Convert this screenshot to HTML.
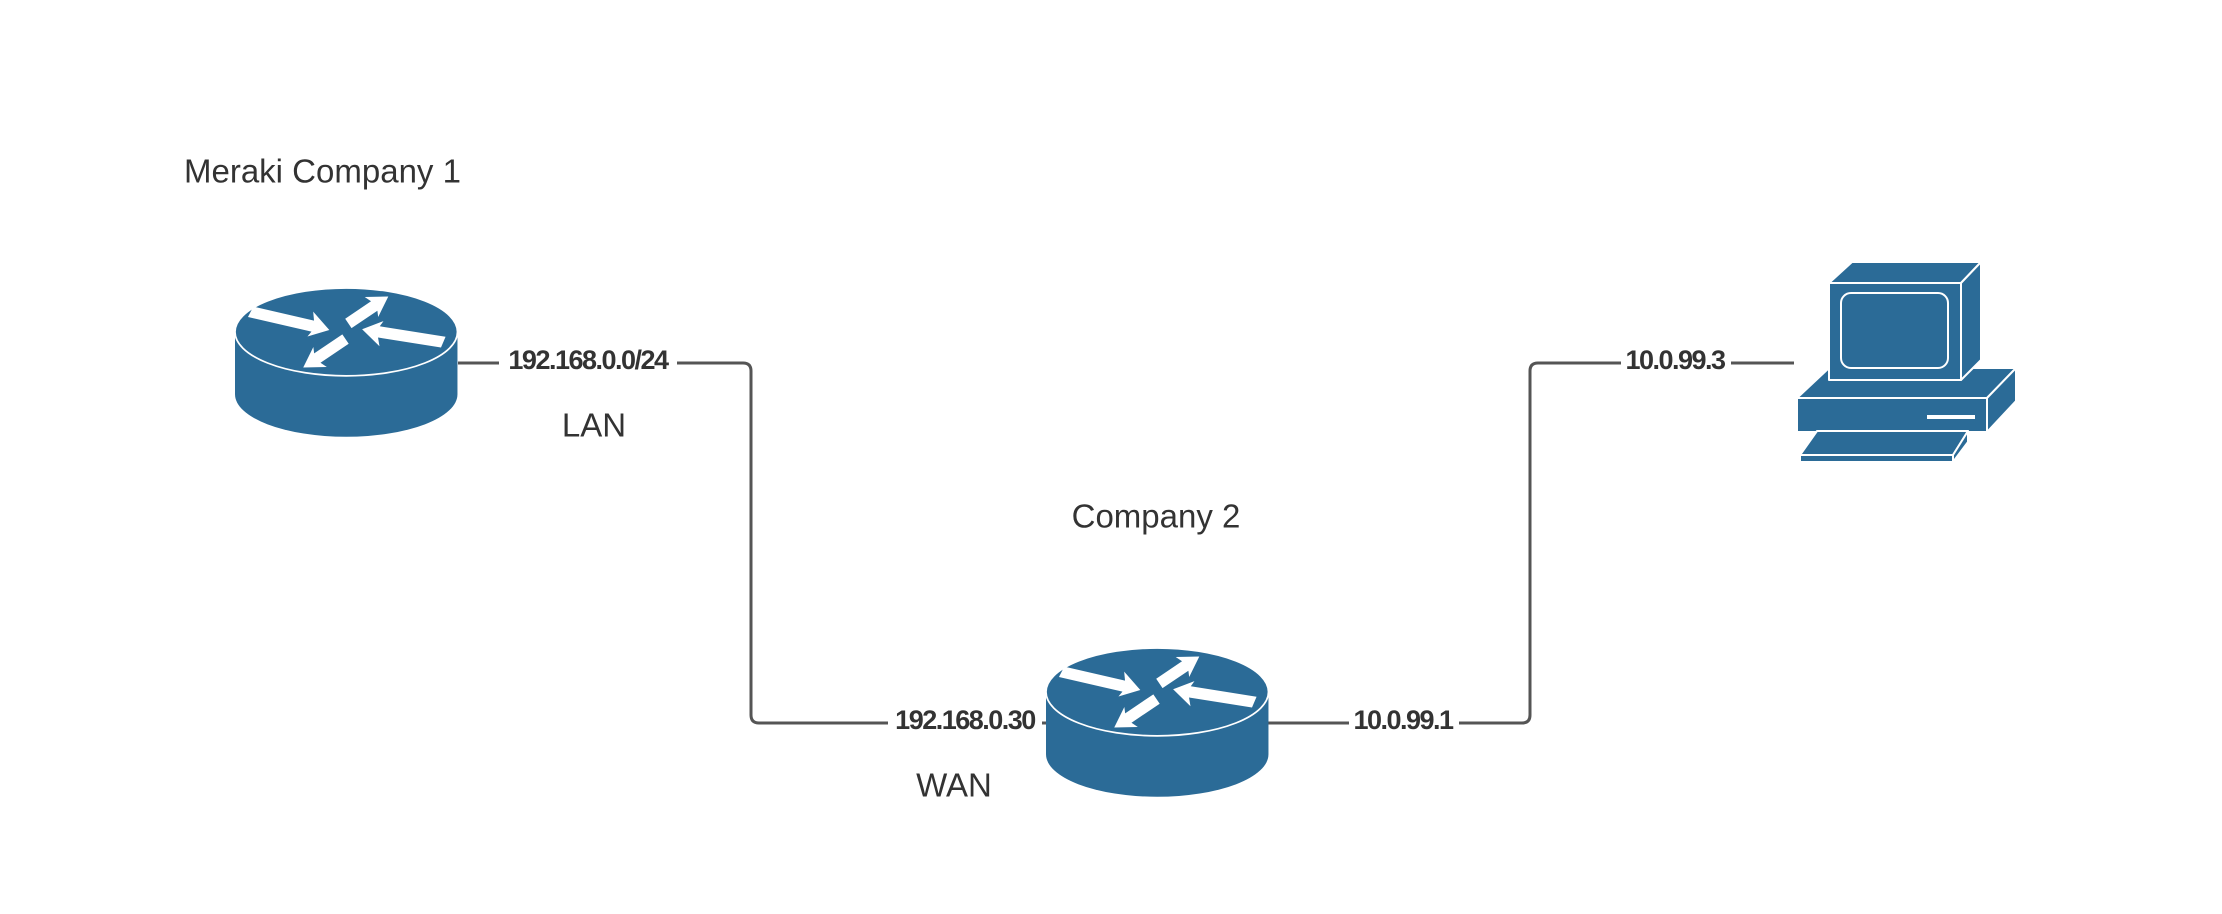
<!DOCTYPE html>
<html><head><meta charset="utf-8"><style>
html,body{margin:0;padding:0;background:#fff;}
svg{display:block;}
text{font-family:"Liberation Sans",sans-serif;fill:#333;}
.b{font-weight:bold;font-size:27px;letter-spacing:-1.5px;}
.n{font-size:33px;}
</style></head><body>
<svg width="2222" height="914" viewBox="0 0 2222 914" xmlns="http://www.w3.org/2000/svg">
<defs>
<g id="router">
  <path d="M0,31 L0,75 A78.5,30 0 0 0 157,75 L157,31 Z" fill="#2b6b97"/>
  <ellipse cx="78.5" cy="31" rx="78.5" ry="31" fill="#2b6b97" stroke="#fff" stroke-width="1.2"/>
  <g fill="#fff">
    <polygon points="0,-4 44,-4 42,-10 56,0 42,8 44,4 -2,4" transform="translate(12,17) rotate(13)"/>
    <polygon points="0,-4 22,-4 20,-9 34,0 20,8 22,4 0,4" transform="translate(80,25) rotate(-34)"/>
    <polygon points="0,-4 45,-4 43,-10 57,0 43,8 45,4 -2,4" transform="translate(146,38) rotate(189)"/>
    <polygon points="0,-4 24,-4 22,-9 36,0 22,8 24,4 0,4" transform="translate(78,36) rotate(146)"/>
  </g>
</g>
</defs>
<g fill="none" stroke="#555" stroke-width="3">
  <path d="M458,363 H743 Q751,363 751,371 V715 Q751,723 759,723 H1046"/>
  <path d="M1268,723 H1522 Q1530,723 1530,715 V371 Q1530,363 1538,363 H1794"/>
</g>
<use href="#router" transform="translate(235,288) scale(1.417)"/>
<use href="#router" transform="translate(1046,648) scale(1.417)"/>
<g fill="#2b6b97" stroke="#fff" stroke-width="2" stroke-linejoin="round">
  <polygon points="1797,398 1829,368 2016,368 1987,398"/>
  <polygon points="1987,398 2016,368 2016,401 1987,432"/>
  <rect x="1797" y="398" width="190" height="34"/>
  <polygon points="1829,283 1852,262 1981,262 1961,283"/>
  <polygon points="1961,283 1981,262 1981,360 1961,380"/>
  <rect x="1829" y="283" width="132" height="97"/>
  <rect x="1841" y="293" width="107" height="75" rx="10"/>
  <polygon points="1817,431 1968,431 1953,455 1800,455"/>
  <polygon points="1953,455 1968,431 1968,442 1953,462"/>
  <rect x="1800" y="455" width="153" height="7"/>
</g>
<rect x="1927" y="415" width="48" height="4" fill="#fff"/>
<g text-anchor="middle" dominant-baseline="central">
  <rect x="499" y="346" width="178" height="32" fill="#fff"/>
  <text class="b" x="588" y="360">192.168.0.0/24</text>
  <rect x="888" y="706" width="154" height="32" fill="#fff"/>
  <text class="b" x="965" y="720">192.168.0.30</text>
  <rect x="1349" y="706" width="110" height="32" fill="#fff"/>
  <text class="b" x="1403" y="720">10.0.99.1</text>
  <rect x="1621" y="346" width="110" height="32" fill="#fff"/>
  <text class="b" x="1675" y="360">10.0.99.3</text>
  <text class="n" x="594" y="425">LAN</text>
  <text class="n" x="1156" y="516">Company 2</text>
  <text class="n" x="954" y="785">WAN</text>
</g>
<text class="n" x="184" y="171" dominant-baseline="central">Meraki Company 1</text>
</svg>
</body></html>
